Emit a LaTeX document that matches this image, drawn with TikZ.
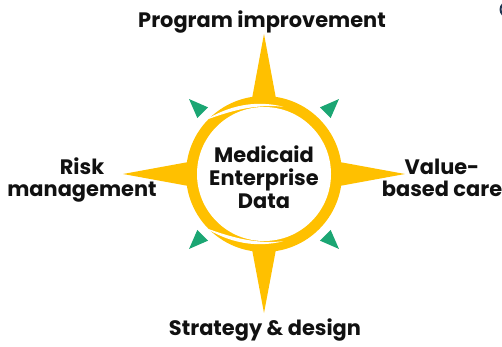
\documentclass[tikz,border=0pt]{standalone}
\usepackage{fontspec}
\setmainfont{Poppins}
\definecolor{sunyellow}{HTML}{FFC000}
\definecolor{tealgreen}{HTML}{1BA673}
\definecolor{inkblack}{HTML}{111111}
\definecolor{navyblue}{HTML}{1F3350}

\tikzset{
  labeltext/.style={font=\bfseries\fontsize{11.9}{12.4}\selectfont,text=inkblack,inner sep=0pt,align=center},
  pointer/.style={fill=tealgreen},
}

\begin{document}
\begin{tikzpicture}[x=0.02cm,y=0.02cm]
    \useasboundingbox (-264,-173) rectangle (238,174);
    %compass star
    \fill[sunyellow] (0,140) -- (13,70) -- (70,13) -- (141,0) -- (70,-13) -- (13,-70) -- (0,-139) -- (-13,-70) -- (-70,-13) -- (-141,0) -- (-70,13) -- (-13,70) -- cycle;
    %ring
    \fill[sunyellow] (0,0) circle (78);
    \fill[white] (0,0) circle (67);
    \fill[white] (138:80) .. controls (117:76.8) and (97:74.8) .. (74:70) .. controls (97:70.6) and (117:71.4) .. cycle;
    \fill[white] (222:80) .. controls (243:76.8) and (263:74.8) .. (286:70) .. controls (263:70.6) and (243:71.4) .. cycle;
    %pointers
    \foreach \a in {45,135,225,315}
      \fill[pointer] (\a:106) -- (\a+5:87) -- (\a-5:87) -- cycle;

    %labels
    \node (hub) at (0,-3) [labeltext,font=\bfseries\fontsize{11.9}{13.2}\selectfont] {Medicaid\\Enterprise\\Data};
    \node (north) at (-2,146) [labeltext,anchor=base] {Program improvement};
    \node (south) at (1,-161) [labeltext,anchor=base] {Strategy \& design};
    \node (west) at (-182,-6) [labeltext] {Risk\\management};
    \node (east) at (178,-4) [labeltext] {Value-\\based care};

    %cut-off mark
    \begin{scope}
      \clip (-264,-173) rectangle (238,174);
      \draw[navyblue,line width=1.1pt] (244,164.5) circle (7.5);
    \end{scope}
 \end{tikzpicture}
\end{document}
